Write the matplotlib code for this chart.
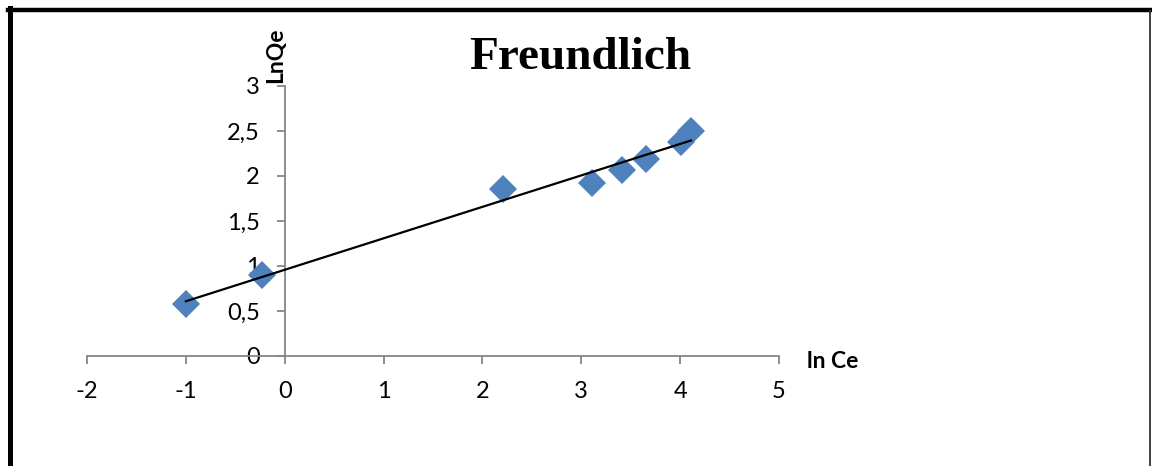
import numpy as np
import matplotlib.pyplot as plt
from matplotlib.lines import Line2D

# Freundlich isotherm data (ln Ce vs ln Qe)
ln_ce = [-1.00, -0.23, 2.21, 3.11, 3.41, 3.65, 4.01, 4.11]
ln_qe = [0.58, 0.90, 1.86, 1.92, 2.07, 2.19, 2.38, 2.50]
x_ticks = [-2, -1, 0, 1, 2, 3, 4, 5]
y_ticks = [0, 0.5, 1, 1.5, 2, 2.5, 3]
y_tick_labels = ["0", "0,5", "1", "1,5", "2", "2,5", "3"]

plt.rcParams['font.family'] = ['Lato', 'DejaVu Sans']

fig = plt.figure(figsize=(11.52, 4.66), dpi=100)
ax = fig.add_axes([87 / 1152, 1 - 356 / 466, 692 / 1152, 270 / 466])

axis_grey = "#868686"

# Linear trend line fitted to the points
slope, intercept = np.polyfit(ln_ce, ln_qe, 1)
x_fit = np.array([min(ln_ce), max(ln_ce)])
ax.plot(x_fit, slope * x_fit + intercept, color="black", lw=1.6, zorder=3)

ax.plot(ln_ce, ln_qe, linestyle="none", marker="D", markersize=14,
        color="#4F81BD", markeredgewidth=0, zorder=2)

ax.set_xlim(-2, 5)
ax.set_ylim(0, 3)

# Axes cross at the origin, Excel style
ax.spines['left'].set_position(('data', 0))
ax.spines['top'].set_visible(False)
ax.spines['right'].set_visible(False)
for s in ('left', 'bottom'):
    ax.spines[s].set_color(axis_grey)
    ax.spines[s].set_linewidth(1.3)

ax.set_xticks(x_ticks)
ax.set_xticklabels([str(v) for v in x_ticks])
ax.set_yticks(y_ticks)
ax.set_yticklabels(y_tick_labels)
ax.tick_params(axis='x', direction='out', length=6, width=1.3, color=axis_grey,
               labelsize=17, pad=12)
ax.tick_params(axis='y', direction='out', length=6, width=1.3, color=axis_grey,
               labelsize=17, pad=12)
ax.patch.set_visible(False)

# Axis titles
fig.text(833 / 1152, 1 - 362 / 466, "ln Ce", fontsize=16.5, fontweight='bold',
         ha='center', va='center')
fig.text(276 / 1152, 1 - 55 / 466, "LnQe", fontsize=16.5, fontweight='bold',
         rotation=90, ha='center', va='center')

# Chart title
fig.text(580 / 1152, 1 - 58 / 466, "Freundlich", fontsize=34, fontweight='bold',
         family='Liberation Serif', ha='center', va='center')

# Frame around the chart
fig.add_artist(Line2D([7.5 / 1152, 1151 / 1152], [1 - 9.5 / 466] * 2,
                      transform=fig.transFigure, color="black", lw=3.2))
fig.add_artist(Line2D([9.5 / 1152] * 2, [0, 1 - 8 / 466],
                      transform=fig.transFigure, color="black", lw=3.6))
fig.add_artist(Line2D([1150.3 / 1152] * 2, [0, 1 - 11 / 466],
                      transform=fig.transFigure, color="#333333", lw=1.3))

fig.savefig("out.png", dpi=100)
plt.close(fig)
